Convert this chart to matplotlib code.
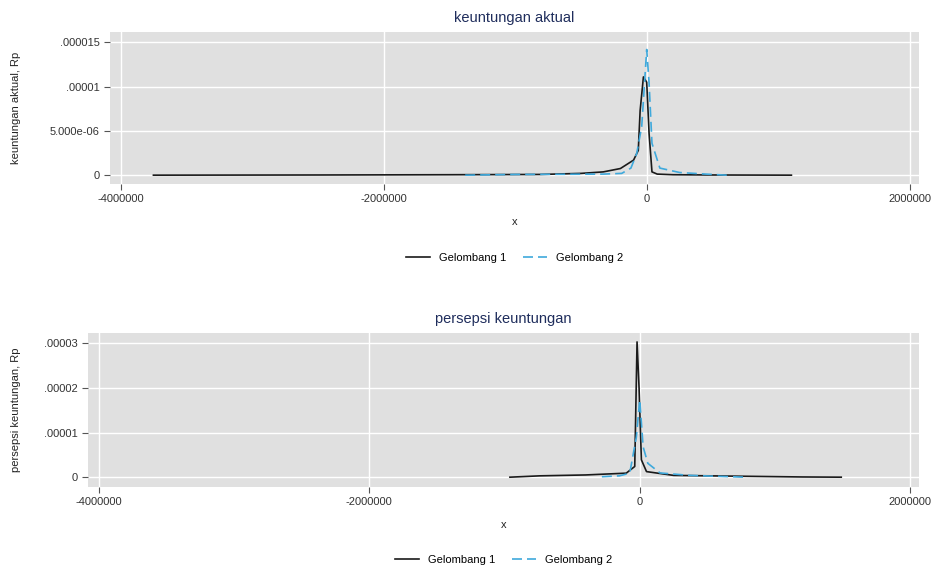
import matplotlib
matplotlib.use("Agg")
from matplotlib import pyplot as plt

# keuntungan aktual (atas)
akt_g1_x = [-3750000, -2500000, -1500000, -810000, -500000, -330000, -200000, -100000, -64000,
            -50000, -25000, 0, 18000, 40000, 80000, 200000, 500000, 1100000]
akt_g1_y = [0.0, 0.02e-6, 0.05e-6, 0.08e-6, 0.2e-6, 0.37e-6, 0.75e-6, 1.7e-6, 2.8e-6,
            7.3e-6, 1.11e-5, 1.05e-5, 4.7e-6, 0.37e-6, 0.12e-6, 0.05e-6, 0.02e-6, 0.0]
akt_g2_x = [-1380000, -1000000, -600000, -330000, -190000, -120000, -76000, -38000, 0,
            18000, 40000, 100000, 250000, 450000, 610000]
akt_g2_y = [0.0, 0.08e-6, 0.1e-6, 0.12e-6, 0.2e-6, 0.8e-6, 2.45e-6, 5.5e-6, 1.42e-5,
            1.04e-5, 3.6e-6, 0.8e-6, 0.3e-6, 0.12e-6, 0.0]

# persepsi keuntungan (bawah)
per_g1_x = [-960000, -740000, -400000, -100000, -37000, -20000, -5000, 12000, 50000,
            250000, 790000, 1200000, 1490000]
per_g1_y = [0.0, 0.3e-6, 0.5e-6, 0.9e-6, 2.4e-6, 3.03e-5, 2.0e-5, 3.9e-6, 1.25e-6,
            0.4e-6, 0.2e-6, 0.05e-6, 0.0]
per_g2_x = [-280000, -150000, -74000, -25000, 0, 25000, 60000, 150000, 370000, 780000]
per_g2_y = [0.1e-6, 0.3e-6, 0.9e-6, 0.9e-5, 1.73e-5, 6.8e-6, 3.1e-6, 0.95e-6, 0.4e-6, 0.0]

x_ticks = [-4000000, -2000000, 0, 2000000]
x_labels = ["-4000000", "-2000000", "0", "2000000"]
akt_yticks = [0, 5e-6, 1e-5, 1.5e-5]
akt_ylabels = ["0", "5.000e-06", ".00001", ".000015"]
per_yticks = [0, 1e-5, 2e-5, 3e-5]
per_ylabels = ["0", ".00001", ".00002", ".00003"]

C_G1 = "#1a1a1a"
C_G2 = "#3fa9dc"
TITLE_C = "#1f2d5c"

plt.rcParams["font.family"] = ["Liberation Sans", "DejaVu Sans"]

fig = plt.figure(figsize=(9.37, 5.69), dpi=100)
ax1 = fig.add_axes([0.1174, 0.6766, 0.8634, 0.2671])
ax2 = fig.add_axes([0.0939, 0.1441, 0.8869, 0.2707])


def style_ax(ax, xlim, ylim, yticks, ylabels, title, ylab, ylab_x, leg_y):
    ax.set_facecolor("#e0e0e0")
    for s in ax.spines.values():
        s.set_visible(False)
    ax.set_xlim(*xlim)
    ax.set_ylim(*ylim)
    ax.set_xticks(x_ticks)
    ax.set_xticklabels(x_labels)
    ax.set_yticks(yticks)
    ax.set_yticklabels(ylabels)
    ax.tick_params(colors="#555555", labelsize=8, length=4, width=0.8, labelcolor="#333333")
    ax.grid(True, color="white", linewidth=1.0)
    ax.set_axisbelow(True)
    ax.set_title(title, color=TITLE_C, fontsize=10.5, pad=7)
    ax.set_ylabel(ylab, fontsize=8, color="#222222")
    ax.yaxis.set_label_coords(ylab_x, 0.5)
    ax.set_xlabel("x", fontsize=8, color="#222222", labelpad=9)
    ax.legend(loc="center", bbox_to_anchor=(0.5, leg_y), ncol=2, frameon=False,
              fontsize=8, handlelength=2.2, columnspacing=1.5)


ax1.plot(akt_g1_x, akt_g1_y, color=C_G1, linewidth=1.2, label="Gelombang 1")
ax1.plot(akt_g2_x, akt_g2_y, color=C_G2, linewidth=1.2, dashes=(6, 3), label="Gelombang 2")
style_ax(ax1, (-4080000, 2070000), (-1.0e-6, 1.617e-5), akt_yticks, akt_ylabels,
         "keuntungan aktual", "keuntungan aktual, Rp", -0.11, -0.487)

ax2.plot(per_g1_x, per_g1_y, color=C_G1, linewidth=1.2, label="Gelombang 1")
ax2.plot(per_g2_x, per_g2_y, color=C_G2, linewidth=1.2, dashes=(6, 3), label="Gelombang 2")
style_ax(ax2, (-4080000, 2065000), (-0.22e-5, 3.23e-5), per_yticks, per_ylabels,
         "persepsi keuntungan", "persepsi keuntungan, Rp", -0.081, -0.474)

fig.savefig("out.png", dpi=100, facecolor="white")
